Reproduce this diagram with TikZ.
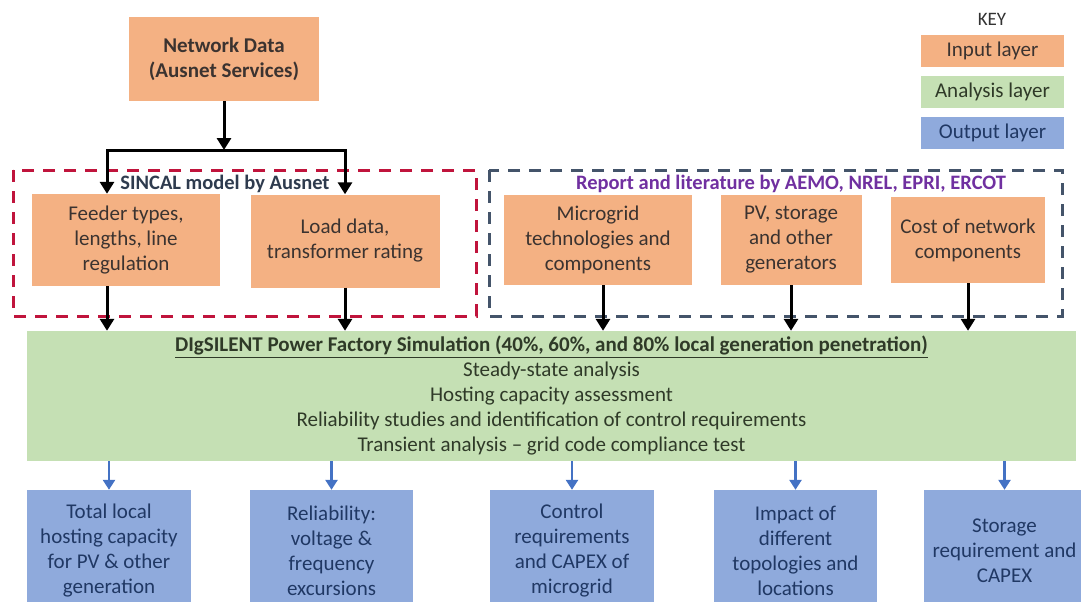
\documentclass[tikz,border=0pt]{standalone}
\usepackage{fontspec}
\setmainfont{Carlito}
\usetikzlibrary{arrows.meta}

\definecolor{inorange}{HTML}{F4B183}
\definecolor{angreen}{HTML}{C5E0B4}
\definecolor{outblue}{HTML}{8FAADC}
\definecolor{sincalred}{HTML}{C0143C}
\definecolor{reportslate}{HTML}{44546A}
\definecolor{reportpurple}{HTML}{7030A0}
\definecolor{arrowblue}{HTML}{4472C4}
\definecolor{intext}{HTML}{3B3330}
\definecolor{antext}{HTML}{2F3A28}
\definecolor{outtext}{HTML}{203864}
\definecolor{sincaltext}{HTML}{2E3B4E}

\tikzset{
  layerbox/.style={inner sep=0pt, align=center, font=\fontsize{21}{25}\selectfont},
  inputbox/.style={layerbox, fill=inorange, text=intext},
  analysisbox/.style={layerbox, fill=angreen, text=antext},
  outputbox/.style={layerbox, fill=outblue, text=outtext},
  blackarrow/.style={line width=3pt, -{Triangle[length=12pt,width=14pt]}},
  bluearrow/.style={line width=2.5pt, arrowblue, -{Triangle[length=10pt,width=12pt]}},
  sincalframe/.style={sincalred, line width=3pt, dash pattern=on 12pt off 9pt},
  reportframe/.style={reportslate, line width=3pt, dash pattern=on 12pt off 9pt},
}

\begin{document}
\begin{tikzpicture}[x=1pt, y=-1pt]
  %%%%% FRAME %%%%%
  \useasboundingbox (0,0) rectangle (1081,602);
  \clip (0,0) rectangle (1081,602);

  %%%%% INPUT LAYER %%%%%
  \node[inputbox, minimum width=190pt, minimum height=84pt] (netdata) at (224,59)
    {\textbf{Network Data}\\\textbf{(Ausnet Services)}};

  \draw[sincalframe] (13,170) rectangle (476,316);
  \draw[reportframe] (489,170) rectangle (1062,316);
  \node[font=\bfseries\fontsize{20.5}{25}\selectfont, text=sincaltext] (sincal) at (225,184) {SINCAL model by Ausnet};
  \node[font=\bfseries\fontsize{20.5}{25}\selectfont, text=reportpurple] (report) at (791,184) {Report and literature by AEMO, NREL, EPRI, ERCOT};

  \node[inputbox, minimum width=188pt, minimum height=92pt] (feeder) at (126,240)
    {Feeder types,\\lengths, line\\regulation};
  \node[inputbox, minimum width=189pt, minimum height=93pt] (load) at (345,241)
    {Load data,\\transformer rating};
  \node[inputbox, minimum width=188pt, minimum height=90pt] (microgrid) at (598,240)
    {Microgrid\\technologies and\\components};
  \node[inputbox, minimum width=141pt, minimum height=90pt] (pv) at (791,240)
    {PV, storage\\and other\\generators};
  \node[inputbox, minimum width=154pt, minimum height=86pt] (cost) at (968,240)
    {Cost of network\\components};

  \coordinate (split) at (224,150);
  \draw[blackarrow] (netdata) -- (split);
  \draw[line width=3pt] (107,150) -- (345,150);
  \draw[blackarrow] (split) -| ([xshift=-19pt]feeder.north);
  \draw[blackarrow] (split) -| (load.north);

  %%%%% ANALYSIS LAYER %%%%%
  \node[analysisbox, minimum width=1049pt, minimum height=130pt] (sim) at (551.5,396)
    {\underline{\textbf{DIgSILENT Power Factory Simulation (40\%, 60\%, and 80\% local generation penetration)}}\\
     Steady-state analysis\\
     Hosting capacity assessment\\
     Reliability studies and identification of control requirements\\
     Transient analysis -- grid code compliance test};

  \draw[blackarrow] ([xshift=-19pt]feeder.south) -- ([xshift=-19pt]feeder.south |- sim.north);
  \draw[blackarrow] (load.south) -- (load.south |- sim.north);
  \draw[blackarrow] ([xshift=5pt]microgrid.south) -- ([xshift=5pt]microgrid.south |- sim.north);
  \draw[blackarrow] (pv.south) -- (pv.south |- sim.north);
  \draw[blackarrow] (cost.south) -- (cost.south |- sim.north);

  %%%%% OUTPUT LAYER %%%%%
  \node[outputbox, minimum width=164pt, minimum height=122pt] (hosting) at (109,551)
    {Total local\\hosting capacity\\for PV \& other\\generation};
  \node[outputbox, minimum width=163pt, minimum height=122pt] (reliab) at (331.5,551)
    {Reliability:\\voltage \&\\frequency\\excursions};
  \node[outputbox, minimum width=164pt, minimum height=122pt] (control) at (572,551)
    {Control\\requirements\\and CAPEX of\\microgrid};
  \node[outputbox, minimum width=163pt, minimum height=122pt] (topo) at (795.5,551)
    {Impact of\\different\\topologies and\\locations};
  \node[outputbox, minimum width=161pt, minimum height=122pt] (storage) at (1004.5,551)
    {Storage\\requirement and\\CAPEX};

  \draw[bluearrow] (hosting.north |- sim.south) -- (hosting.north);
  \draw[bluearrow] (reliab.north |- sim.south) -- (reliab.north);
  \draw[bluearrow] (control.north |- sim.south) -- (control.north);
  \draw[bluearrow] (topo.north |- sim.south) -- (topo.north);
  \draw[bluearrow] (storage.north |- sim.south) -- (storage.north);

  %%%%% KEY %%%%%
  \node[font=\fontsize{19}{23}\selectfont, text=black!80] (key) at (992,19) {KEY};
  \node[inputbox, minimum width=143pt, minimum height=32pt] (keyin) at (992.5,51) {Input layer};
  \node[analysisbox, minimum width=143pt, minimum height=32pt] (keyan) at (992.5,92) {Analysis layer};
  \node[outputbox, minimum width=143pt, minimum height=32pt] (keyout) at (992.5,133) {Output layer};
\end{tikzpicture}
\end{document}
